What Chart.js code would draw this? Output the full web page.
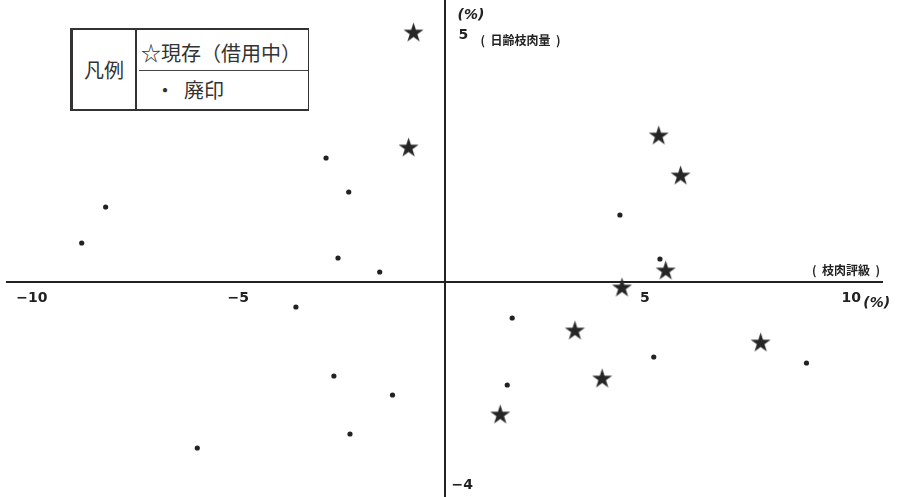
<!DOCTYPE html>
<html>
<head>
<meta charset="utf-8">
<script src="https://cdn.jsdelivr.net/npm/chart.js@4/dist/chart.umd.min.js"></script>
<style>
  html, body { margin: 0; padding: 0; background: #fff; }
  #wrap { position: relative; width: 900px; height: 497px; }
  canvas { display: block; }
  #legend { position: absolute; left: 70px; top: 28px; width: 235px; height: 79px;
    border: 2px solid #333; border-left-width: 3px; border-right-width: 1px; background: #fff;
    font-family: "Noto Sans CJK JP", sans-serif; color: #333; }
  #legend .head { position: absolute; left: 0; top: 0; width: 62px; height: 79px;
    border-right: 2px solid #333; font-size: 20px; line-height: 79px; text-align: center; }
  #legend .row1 { position: absolute; left: 68px; top: 8px; font-size: 20px; white-space: nowrap; letter-spacing: 0px; }
  #legend .sep { position: absolute; left: 66px; right: 0; top: 40px; border-top: 1.5px solid #444; }
  #legend .row2 { position: absolute; left: 82px; top: 45px; font-size: 20px; white-space: nowrap; }
</style>
</head>
<body>
<div id="wrap">
  <canvas id="myChart" width="900" height="497"></canvas>
  <div id="legend">
    <div class="head">凡例</div>
    <div class="row1">☆現存（借用中）</div>
    <div class="sep"></div>
    <div class="row2">・&nbsp;&nbsp;廃印</div>
  </div>
</div>
<script>
// 現存（借用中）
const currentX = [-0.75, -0.87, 5.19, 5.72, 5.36, 4.30, 3.16, 7.66, 3.82, 1.35]
const currentY = [5.0, 2.7, 2.94, 2.14, 0.24, -0.1, -0.96, -1.2, -1.92, -2.64]
// 廃印
const culledX = [-2.87, -2.32, -8.21, -8.79, -2.58, -1.57, -3.6, 4.25, 5.22, 1.64, 5.07, 8.77, 1.52, -2.68, -1.26, -2.29, -5.99]
const culledY = [2.48, 1.8, 1.5, 0.78, 0.48, 0.2, -0.5, 1.34, 0.46, -0.72, -1.5, -1.62, -2.06, -1.88, -2.26, -3.04, -3.32]
// 目盛
const xTicks = [-10, -5, 5, 10]
const yTicks = [5, -4]

const toPoints = (xs, ys) => xs.map((x, i) => ({ x: x, y: ys[i] }))

// 五角星のマーカー
function makeStar(size) {
  const c = document.createElement('canvas')
  c.width = size
  c.height = size
  const g = c.getContext('2d')
  const cx = size / 2, cy = size / 2 + 1
  const outer = size / 2 - 1, inner = outer * 0.38
  g.beginPath()
  for (let i = 0; i < 10; i++) {
    const r = i % 2 === 0 ? outer : inner
    const a = -Math.PI / 2 + i * Math.PI / 5
    const px = cx + r * Math.cos(a), py = cy + r * Math.sin(a)
    if (i === 0) g.moveTo(px, py)
    else g.lineTo(px, py)
  }
  g.closePath()
  g.fillStyle = '#262626'
  g.fill()
  return c
}

const labelsPlugin = {
  id: 'axisText',
  afterDraw(chart) {
    const ctx = chart.ctx
    const xs = chart.scales.x, ys = chart.scales.y
    const x0 = xs.getPixelForValue(0), y0 = ys.getPixelForValue(0)
    ctx.save()
    ctx.fillStyle = '#222'
    ctx.font = 'bold 14px "DejaVu Sans", sans-serif'
    ctx.textBaseline = 'middle'
    ctx.textAlign = 'center'
    xTicks.forEach(v => {
      const t = v < 0 ? '\u2212' + Math.abs(v) : String(v)
      ctx.fillText(t, xs.getPixelForValue(v) - (v > 0 ? 6 : 0), y0 + 16)
    })
    ctx.textAlign = 'left'
    yTicks.forEach(v => {
      const t = v < 0 ? '\u2212' + Math.abs(v) : String(v)
      ctx.fillText(t, x0 + (v > 0 ? 14 : 7), ys.getPixelForValue(v) + 3)
    })
    // 単位
    ctx.font = 'italic bold 14px "DejaVu Sans", sans-serif'
    ctx.fillText('(%)', x0 + 13, ys.getPixelForValue(5) - 17)
    ctx.fillText('(%)', xs.getPixelForValue(10) + 6, y0 + 21)
    // 軸名
    ctx.font = 'bold 12px "Noto Sans CJK JP", sans-serif'
    ctx.fillText('(  日齢枝肉量  )', x0 + 36, ys.getPixelForValue(5) + 8)
    ctx.textAlign = 'right'
    ctx.fillText('(  枝肉評級  )', xs.getPixelForValue(10.6) - 2, y0 - 12)
    ctx.restore()
  }
}

const ctx = document.getElementById('myChart').getContext('2d')

const data = {
  datasets: [
    {
      label: '現存(借用中)',
      data: toPoints(currentX, currentY),
      pointStyle: makeStar(23),
      pointRadius: 11,
      backgroundColor: '#262626',
      borderColor: '#262626'
    },
    {
      label: '廃印',
      data: toPoints(culledX, culledY),
      pointStyle: 'circle',
      pointRadius: 2.6,
      backgroundColor: '#222',
      borderColor: '#222',
      borderWidth: 0
    }
  ]
}

const config = {
  type: 'scatter',
  data: data,
  options: {
    responsive: false,
    animation: false,
    layout: { autoPadding: false, padding: { left: 7, right: 18, top: 0, bottom: 0 } },
    plugins: {
      legend: { display: false },
      tooltip: { enabled: false }
    },
    scales: {
      x: {
        type: 'linear',
        min: -10.6,
        max: 10.6,
        position: { y: 0 },
        grid: { display: false },
        border: { display: true, color: '#222', width: 2 },
        ticks: { display: false }
      },
      y: {
        type: 'linear',
        min: -4.3,
        max: 5.64,
        position: { x: 0 },
        grid: { display: false },
        border: { display: true, color: '#222', width: 2 },
        ticks: { display: false }
      }
    }
  },
  plugins: [labelsPlugin]
}

const myChart = new Chart(ctx, config)
</script>
</body>
</html>
